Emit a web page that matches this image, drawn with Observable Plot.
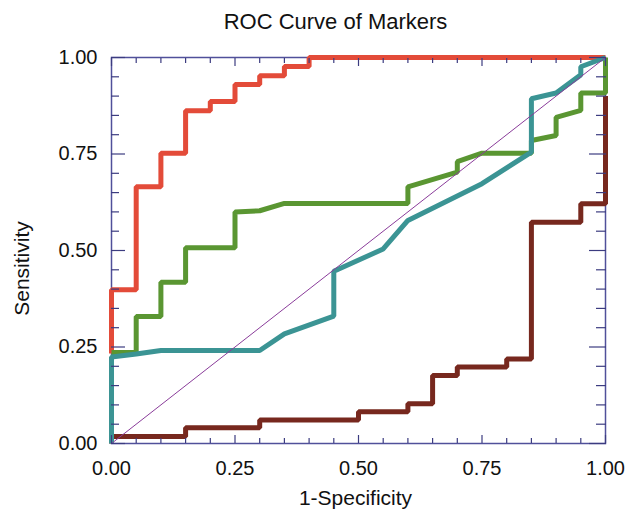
<!DOCTYPE html>
<html><head><meta charset="utf-8">
<script src="https://cdn.jsdelivr.net/npm/d3@7"></script>
<script src="https://cdn.jsdelivr.net/npm/@observablehq/plot@0.6"></script>
<style>body{margin:0;background:#fff} #chart{width:634px;height:513px}</style>
</head><body><div id="chart"></div>
<script>
const title = "ROC Curve of Markers";
const xLabel = "1-Specificity";
const yLabel = "Sensitivity";
const majorTicks = [0, 0.25, 0.5, 0.75, 1];
const minorTicks = [0.05, 0.1, 0.15, 0.2, 0.3, 0.35, 0.4, 0.45, 0.55, 0.6, 0.65, 0.7, 0.8, 0.85, 0.9, 0.95];

// ROC curves (1-specificity, sensitivity)
const redFpr = [0, 0, 0.05, 0.05, 0.10, 0.10, 0.15, 0.15, 0.20, 0.20, 0.25, 0.25, 0.30, 0.30, 0.35, 0.35, 0.40, 0.40, 1.0];
const redTpr = [0.233, 0.398, 0.398, 0.665, 0.665, 0.752, 0.752, 0.862, 0.862, 0.886, 0.886, 0.930, 0.930, 0.953, 0.953, 0.977, 0.977, 1.0, 1.0];

const maroonFpr = [0, 0, 0.15, 0.15, 0.30, 0.30, 0.50, 0.50, 0.60, 0.60, 0.65, 0.65, 0.70, 0.70, 0.80, 0.80, 0.85, 0.85, 0.95, 0.95, 1.0, 1.0];
const maroonTpr = [0, 0.018, 0.018, 0.041, 0.041, 0.061, 0.061, 0.082, 0.082, 0.103, 0.103, 0.176, 0.176, 0.198, 0.198, 0.219, 0.219, 0.573, 0.573, 0.621, 0.621, 0.90];

const greenFpr = [0, 0.05, 0.05, 0.10, 0.10, 0.15, 0.15, 0.25, 0.25, 0.30, 0.35, 0.60, 0.60, 0.70, 0.70, 0.75, 0.85, 0.85, 0.90, 0.90, 0.95, 0.95, 1.0, 1.0];
const greenTpr = [0.236, 0.236, 0.329, 0.329, 0.418, 0.418, 0.507, 0.507, 0.600, 0.603, 0.622, 0.622, 0.665, 0.703, 0.730, 0.752, 0.752, 0.785, 0.798, 0.845, 0.863, 0.908, 0.908, 1.0];

const cyanFpr = [0, 0, 0.05, 0.10, 0.30, 0.35, 0.45, 0.45, 0.55, 0.60, 0.75, 0.85, 0.85, 0.90, 0.95, 0.95, 1.0];
const cyanTpr = [0, 0.224, 0.232, 0.241, 0.241, 0.284, 0.330, 0.446, 0.504, 0.578, 0.673, 0.755, 0.893, 0.908, 0.955, 0.976, 1.0];

const diagFpr = [0, 1];
const diagTpr = [0, 1];

const rows = (xs, ys) => xs.map((x, i) => ({fpr: x, tpr: ys[i]}));

const frameColor = "#50509a";
const tickColor = "#3c3c80";
const font = "'Liberation Sans', Arial, sans-serif";
const lineOpts = {x: "fpr", y: "tpr", strokeWidth: 5, strokeLinejoin: "miter", strokeLinecap: "butt"};
const tickOpts = {tickFormat: () => "", label: null, stroke: tickColor, strokeWidth: 1.2};

const chart = Plot.plot({
  width: 634,
  height: 513,
  marginLeft: 111,
  marginRight: 29,
  marginTop: 57,
  marginBottom: 70,
  style: {fontFamily: font, background: "#fff", color: "#111"},
  x: {domain: [0, 1]},
  y: {domain: [0, 1]},
  marks: [
    Plot.frame({stroke: frameColor, strokeWidth: 1.5}),
    Plot.line(rows(redFpr, redTpr), {...lineOpts, stroke: "#e34b39"}),
    Plot.line(rows(maroonFpr, maroonTpr), {...lineOpts, stroke: "#77281e"}),
    Plot.line(rows(greenFpr, greenTpr), {...lineOpts, stroke: "#5a9632"}),
    Plot.line(rows(cyanFpr, cyanTpr), {...lineOpts, stroke: "#3b9494"}),
    Plot.line(rows(diagFpr, diagTpr), {x: "fpr", y: "tpr", stroke: "#8a3c9a", strokeWidth: 1}),
    // inward ticks
    Plot.axisX(minorTicks, {anchor: "bottom", tickSize: -5, ...tickOpts}),
    Plot.axisX(majorTicks, {anchor: "bottom", tickSize: -8, ...tickOpts}),
    Plot.axisX(minorTicks, {anchor: "top", tickSize: -5, ...tickOpts}),
    Plot.axisX(majorTicks, {anchor: "top", tickSize: -8, ...tickOpts}),
    Plot.axisY(minorTicks, {anchor: "left", tickSize: -8, ...tickOpts}),
    Plot.axisY(majorTicks, {anchor: "left", tickSize: -14, ...tickOpts}),
    Plot.axisY(minorTicks, {anchor: "right", tickSize: -10, ...tickOpts}),
    Plot.axisY(majorTicks, {anchor: "right", tickSize: -17, ...tickOpts}),
    // tick labels
    Plot.axisX(majorTicks, {anchor: "bottom", tickSize: 0, tickPadding: 17, tickFormat: d3.format(".2f"), fontSize: 20, label: null, fill: "#111"}),
    Plot.axisY(majorTicks, {anchor: "left", tickSize: 0, tickPadding: 14, tickFormat: d3.format(".2f"), fontSize: 20, label: null, fill: "#111"}),
    // titles
    Plot.text([title], {frameAnchor: "top", dx: -23, dy: -44, lineAnchor: "top", fontSize: 22, fill: "#111"}),
    Plot.text([xLabel], {frameAnchor: "bottom", dx: -3, dy: 47, lineAnchor: "top", fontSize: 21, fill: "#111"}),
    Plot.text([yLabel], {frameAnchor: "left", dx: -89, dy: 18, rotate: -90, textAnchor: "middle", lineAnchor: "middle", fontSize: 21, fill: "#111"})
  ]
});
document.getElementById("chart").append(chart);
</script>
</body></html>
